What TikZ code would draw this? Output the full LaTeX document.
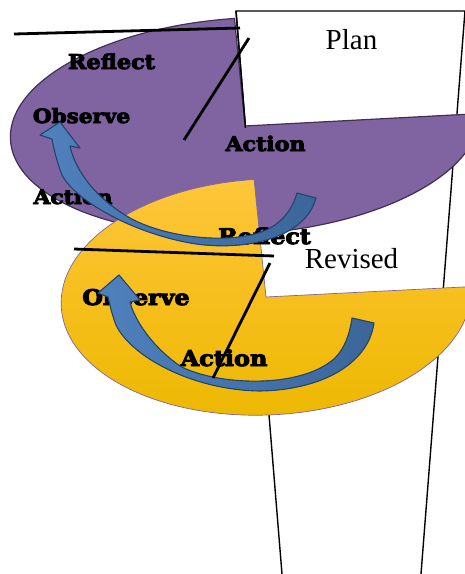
\documentclass[tikz,border=0pt]{standalone}
\usepackage{fontspec}
\setmainfont{Liberation Serif}
\newfontfamily\lblfont{DejaVu Serif}[FakeBold=4.5, FakeStretch=1.1]
\definecolor{piepurple}{HTML}{8064A2}
\definecolor{pieedge}{HTML}{3F3151}
\definecolor{yeltop}{HTML}{FFC63A}
\definecolor{yelbot}{HTML}{EDB800}
\definecolor{yeledge}{HTML}{8064A2}
\definecolor{arrowlight}{HTML}{4F81BD}
\definecolor{arrowdark}{HTML}{3C6699}
\definecolor{arrowline}{HTML}{22446E}
\tikzset{
  cyclelabel/.style={font=\lblfont\bfseries\fontsize{#1}{#1}\selectfont, anchor=base, inner sep=0pt},
  boxlabel/.style={font=\fontsize{29}{29}\selectfont, anchor=base, inner sep=0pt},
  arrowbody/.style={draw=arrowline, line width=1.1pt, left color=arrowlight, right color=arrowdark, line join=round},
  spoke/.style={line width=2.8pt, black},
  frameline/.style={line width=1.4pt, black}
}
\begin{document}
\begin{tikzpicture}[x=1pt, y=-1pt]
\useasboundingbox[fill=white] (0,0) rectangle (465,574);

% tall frame standing behind both pies
\coordinate (tl) at (236,11);
\coordinate (tr) at (465,11);
\coordinate (br) at (421,574);
\coordinate (bl) at (282,574);
\draw[frameline, fill=white] (bl) -- (tl) -- (tr) -- (br);

% upper pie (purple), upper-right quarter left open
\begin{scope}[shift={(245,126)}, rotate=3.4, x=1pt, y=1pt]
  \filldraw[fill=piepurple, draw=pieedge, line width=1.2pt]
    (0,0) -- (-0.8:235pt and 108pt)
    arc[start angle=-0.8, end angle=-269, x radius=235pt, y radius=108pt] -- cycle;
\end{scope}
\coordinate (pc) at (245.5,128);
\draw[frameline] (tl) -- (pc);

\node[boxlabel] (plan) at (351.5,49) {Plan};

\node[cyclelabel=20.3] (reflect1) at (111.5,69) {Reflect};
\node[cyclelabel=19.6] (observe1) at (81.5,123) {Observe};
\node[cyclelabel=20.1] (action1) at (265.5,151) {Action};
\node[cyclelabel=19.8] (action0) at (73,204) {Action};

% lower pie (yellow)
\begin{scope}[shift={(266,297)}, rotate=2.5, x=1pt, y=1pt]
  \shadedraw[top color=yeltop, bottom color=yelbot, draw=yeledge, line width=0.7pt]
    (0,0) -- (0.7:205pt and 118pt)
    arc[start angle=0.7, end angle=-268.1, x radius=205pt, y radius=118pt] -- cycle;
\end{scope}

\node[boxlabel] (revised) at (351.5,268) {Revised};

\node[cyclelabel=21.6] (reflect2) at (264.5,244) {Reflect};
\node[cyclelabel=21.6] (observe2) at (136,305) {Observe};
\node[cyclelabel=21.8] (action2) at (224,366) {Action};

% curved arrows
\filldraw[arrowbody] (316,198)
  .. controls (305,240) and (240,252) .. (190,243)
  .. controls (130,232) and (75,200) .. (62,175)
  .. controls (57,162) and (54,150) .. (52,139)
  -- (40,135) -- (60,122) -- (80,148) -- (70,146)
  .. controls (74,165) and (90,195) .. (130,218)
  .. controls (170,240) and (240,245) .. (270,228)
  .. controls (285,220) and (294,205) .. (297,193)
  -- cycle;

\filldraw[arrowbody] (374,323)
  .. controls (368,365) and (320,390) .. (260,391)
  .. controls (190,390) and (130,355) .. (116,325)
  .. controls (112,315) and (110,305) .. (108,297)
  -- (98,293) -- (119,275) -- (140,300) -- (130,302)
  .. controls (134,318) and (150,345) .. (180,366)
  .. controls (215,385) and (300,390) .. (335,358)
  .. controls (345,348) and (350,333) .. (352,318)
  -- cycle;

% straight black strokes
\coordinate (s1a) at (14,34);   \coordinate (s1b) at (240,28);
\coordinate (s2a) at (249,38);  \coordinate (s2b) at (184,140);
\coordinate (s3a) at (74,249);  \coordinate (s3b) at (274,256);
\coordinate (s4a) at (270,263); \coordinate (s4b) at (213,378);
\draw[spoke] (s1a) -- (s1b);
\draw[spoke] (s2a) -- (s2b);
\draw[spoke] (s3a) -- (s3b);
\draw[spoke] (s4a) -- (s4b);
\end{tikzpicture}
\end{document}
